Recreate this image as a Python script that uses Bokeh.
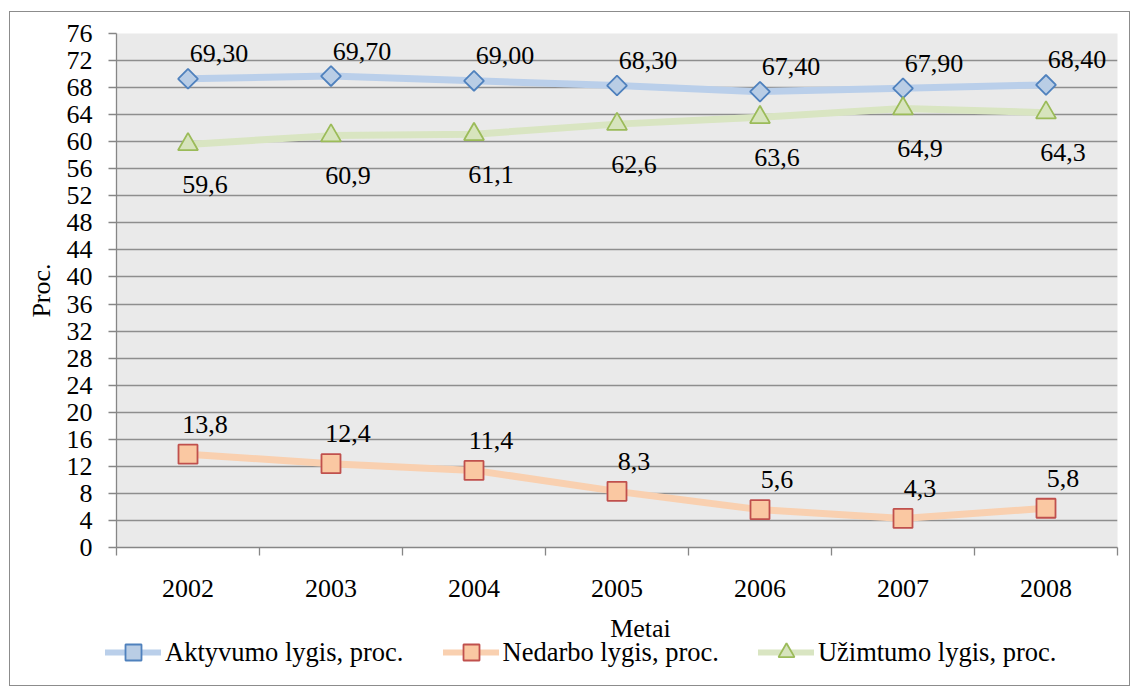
from bokeh.plotting import figure
from bokeh.layouts import column
from bokeh.models import (ColumnDataSource, FixedTicker, Legend, LegendItem, Range1d, Label)
from bokeh.core.properties import value
from bokeh.embed import file_html
from bokeh.resources import INLINE
import math

years = ["2002", "2003", "2004", "2005", "2006", "2007", "2008"]
aktyvumo = [69.3, 69.7, 69.0, 68.3, 67.4, 67.9, 68.4]
nedarbo = [13.8, 12.4, 11.4, 8.3, 5.6, 4.3, 5.8]
uzimtumo = [59.6, 60.9, 61.1, 62.6, 63.6, 64.9, 64.3]
y_ticks = list(range(0, 77, 4))

FONT = "'Liberation Serif'"
FS = "26px"
xs = [i + 0.5 for i in range(len(years))]

W = 1119
P_H = 600
L_H = 73

p = figure(width=W, height=P_H, output_backend="svg", toolbar_location=None,
           x_range=Range1d(0, len(years)), y_range=Range1d(0, 76),
           min_border_left=106, min_border_right=12, min_border_top=21, min_border_bottom=P_H - 535,
           title=None)
p.frame_align = False
p.background_fill_color = "#EAEAEA"
p.border_fill_color = "white"
p.outline_line_color = None

# axes
xa = p.xaxis[0]
xa.ticker = FixedTicker(ticks=xs, minor_ticks=list(range(len(years) + 1)))
xa.major_label_overrides = {x: y for x, y in zip(xs, years)}
xa.major_tick_out = 0
xa.major_tick_in = 0
xa.minor_tick_out = 8
xa.minor_tick_in = 0
xa.minor_tick_line_color = "#868686"
xa.minor_tick_line_width = 1.3
xa.axis_line_color = "#868686"
xa.axis_line_width = 1.3
xa.major_label_text_font = FONT
xa.major_label_text_font_size = FS
xa.major_label_text_color = "black"
xa.major_label_standoff = 24

ya = p.yaxis[0]
ya.ticker = FixedTicker(ticks=y_ticks)
ya.major_tick_out = 8
ya.major_tick_in = 0
ya.minor_tick_out = 0
ya.minor_tick_in = 0
ya.major_tick_line_color = "#868686"
ya.major_tick_line_width = 1.3
ya.axis_line_color = "#868686"
ya.axis_line_width = 1.3
ya.major_label_text_font = FONT
ya.major_label_text_font_size = FS
ya.major_label_text_color = "black"
ya.major_label_standoff = 16
ya.axis_label = "Proc."
ya.axis_label_text_font = FONT
ya.axis_label_text_font_size = FS
ya.axis_label_text_font_style = "normal"
ya.axis_label_text_color = "black"
ya.axis_label_standoff = 8

p.xgrid.grid_line_color = None
p.ygrid.ticker = FixedTicker(ticks=y_ticks)
p.ygrid.grid_line_color = "#8E8E8E"
p.ygrid.grid_line_width = 1.3

# strip under the chart: x-axis title and legend
leg = figure(width=W, height=L_H, output_backend="svg", toolbar_location=None,
             x_range=Range1d(100, 101), y_range=Range1d(100, 101),
             x_axis_type=None, y_axis_type=None, min_border=0, title=None)
leg.frame_align = False
leg.outline_line_color = None
leg.background_fill_color = "white"
leg.border_fill_color = "white"
leg.xgrid.grid_line_color = None
leg.ygrid.grid_line_color = None
leg.add_layout(Label(x=630, y=L_H - 16, x_units="screen", y_units="screen", text="Metai",
                     text_font=FONT, text_font_size=FS, text_color="black",
                     text_align="center", text_baseline="middle"))

series = [
    ("Aktyvumo lygis, proc.", aktyvumo, "#BACFEA", "square", math.pi / 4, 14, "#4F81BD", "#B9CDE5", 2, 31, 25),
    ("Nedarbo lygis, proc.", nedarbo, "#F9D0B0", "square", 0, 19, "#C0504D", "#FAC8A2", 1, 17, 30),
    ("Užimtumo lygis, proc.", uzimtumo, "#D9E5C2", "triangle", 0, 20, "#9BBB59", "#D7E4BD", 1, 17, -40),
]

items = []
label_specs = []
for name, vals, lc, marker, ang, size, mlc, mfc, dec, xo, yo in series:
    src = ColumnDataSource(dict(x=xs, y=vals, t=[f"{v:.{dec}f}".replace(".", ",") for v in vals]))
    p.line("x", "y", source=src, line_color=lc, line_width=7, line_cap="round", line_join="round")
    p.scatter("x", "y", source=src, marker=marker, angle=ang, size=size,
              line_color=mlc, fill_color=mfc, line_width=1.8)
    l1 = leg.line("x", "y", source=src, line_color=lc, line_width=6, line_cap="round")
    l2 = leg.scatter("x", "y", source=src, marker=marker, angle=ang, size=size,
                     line_color=mlc, fill_color=mfc, line_width=1.8)
    items.append(LegendItem(label=name, renderers=[l1, l2]))
    label_specs.append((src, xo, yo))

for src, xo, yo in label_specs:
    p.text("x", "y", text="t", source=src, x_offset=xo, y_offset=-yo,
           text_font=value(FONT), text_font_size=FS, text_color="black",
           text_align="center", text_baseline="middle")

GH = 40
legend = Legend(items=items, orientation="horizontal", location=(95, L_H - 20 - GH),
                label_text_font=FONT, label_text_font_size="26.5px", label_text_color="black",
                glyph_width=56, glyph_height=GH, label_standoff=4, spacing=39,
                padding=0, margin=0, border_line_color=None, background_fill_alpha=0)
leg.add_layout(legend, "center")

layout = column(p, leg, spacing=0)
layout.styles = {"border": "1px solid #8C8C8C", "margin": "11px 0 0 9px"}

open("out.html", "w").write(file_html(layout, INLINE))
